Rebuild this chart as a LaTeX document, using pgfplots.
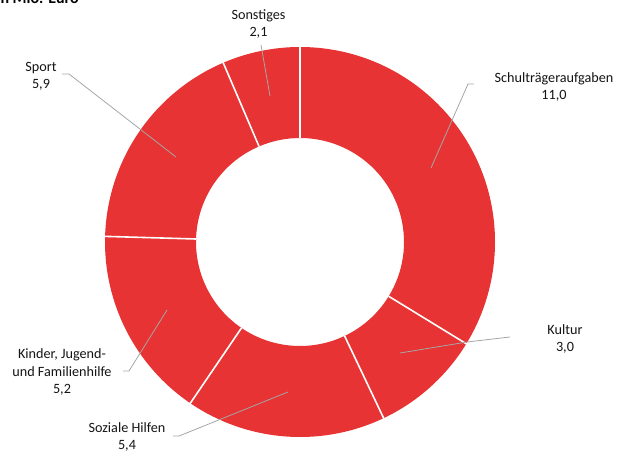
\documentclass[border=0pt]{standalone}
\usepackage{pgfplots}
\pgfplotsset{compat=1.18}
\usepackage{pgfplotstable}
\usepackage{fontspec}
\setmainfont{Carlito}
\definecolor{slicered}{RGB}{231,51,51}
\definecolor{leadgray}{RGB}{166,166,166}
\definecolor{txt}{RGB}{20,20,20}

\pgfplotstableread{
value
11.0
3.0
5.4
5.2
5.9
2.1
}\donutdata

\begin{document}
\begin{tikzpicture}
\def\cx{300}\def\cy{242}\def\Ro{195}\def\Ri{104}
% cumulative angles from the data (clockwise from 12 o'clock)
\pgfmathsetmacro\tot{0}
\foreach \i in {0,...,5}{\pgfplotstablegetelem{\i}{value}\of\donutdata \pgfmathsetmacro\tmp{\tot+\pgfplotsretval}\xdef\tot{\tmp}}
\xdef\angA{90}
\foreach \i [count=\j] in {0,...,5}{%
  \pgfplotstablegetelem{\i}{value}\of\donutdata
  \pgfmathsetmacro\tmp{\csname ang\ifcase\i A\or B\or C\or D\or E\or F\fi\endcsname-360*\pgfplotsretval/\tot}%
  \expandafter\xdef\csname ang\ifcase\i B\or C\or D\or E\or F\or G\fi\endcsname{\tmp}}
\newcommand\slice[2]{%
  \fill[slicered] (axis cs:{\cx+\Ro*cos(#1)},{\cy-\Ro*sin(#1)}) arc[start angle=#1,end angle=#2,radius=\Ro pt]
   -- (axis cs:{\cx+\Ri*cos(#2)},{\cy-\Ri*sin(#2)}) arc[start angle=#2,end angle=#1,radius=\Ri pt] -- cycle;}
\newcommand\sep[1]{%
  \draw[white,line width=1.6pt] (axis cs:{\cx+\Ri*cos(#1)},{\cy-\Ri*sin(#1)}) -- (axis cs:{\cx+(\Ro+1)*cos(#1)},{\cy-(\Ro+1)*sin(#1)});}
\begin{axis}[name=ax,scale only axis,width=622pt,height=453pt,
  xmin=0,xmax=622,ymin=0,ymax=453,y dir=reverse,hide axis,clip=false]
\slice{\angA}{\angB}
\slice{\angB}{\angC}
\slice{\angC}{\angD}
\slice{\angD}{\angE}
\slice{\angE}{\angF}
\slice{\angF}{\angG}
\sep{\angA}\sep{\angB}\sep{\angC}\sep{\angD}\sep{\angE}\sep{\angF}
% leader lines
\draw[leadgray,line width=0.8pt] (axis cs:474,84) -- (axis cs:468,84) -- (axis cs:431,168);
\draw[leadgray,line width=0.8pt] (axis cs:510,337) -- (axis cs:467,342) -- (axis cs:400,353);
\draw[leadgray,line width=0.8pt] (axis cs:173,436) -- (axis cs:179,436) -- (axis cs:288,392);
\draw[leadgray,line width=0.8pt] (axis cs:123,371) -- (axis cs:129,371) -- (axis cs:167,310);
\draw[leadgray,line width=0.8pt] (axis cs:62,74) -- (axis cs:69,74) -- (axis cs:176,157);
\draw[leadgray,line width=0.8pt] (axis cs:261,45) -- (axis cs:270,96);
% labels
\tikzset{lbl/.style={align=center,text=txt,font=\fontsize{14.2}{17.3}\selectfont,inner sep=0pt}}
\node[lbl] at (axis cs:258.5,24) {Sonstiges\\2,1};
\node[lbl] at (axis cs:554,87) {Schulträgeraufgaben\\11,0};
\node[lbl] at (axis cs:565,339) {Kultur\\3,0};
\node[lbl] at (axis cs:127,437) {Soziale Hilfen\\5,4};
\node[lbl] at (axis cs:62,372) {Kinder, Jugend-\\und Familienhilfe\\5,2};
\node[lbl] at (axis cs:41,76) {Sport\\5,9};
\node[anchor=base east,inner sep=0pt,font=\bfseries\fontsize{16}{19}\selectfont] at (axis cs:79,3) {in Mio. Euro};
\end{axis}
\pgfresetboundingbox
\path (ax.south west) rectangle (ax.north east);
\end{tikzpicture}
\end{document}
